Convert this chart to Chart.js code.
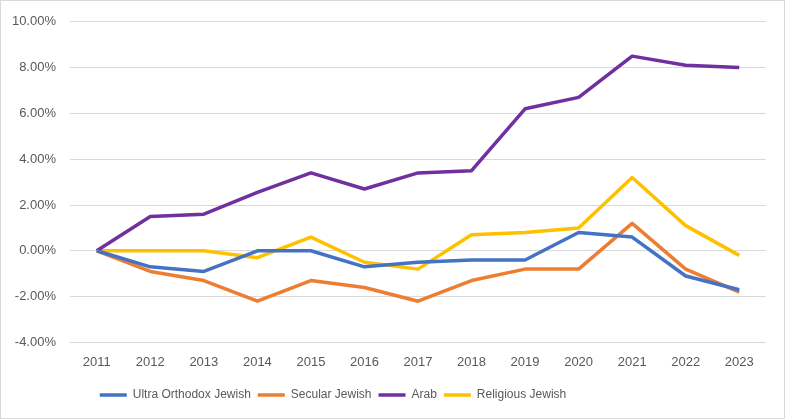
<!DOCTYPE html>
<html>
<head>
<meta charset="utf-8">
<script src="https://cdn.jsdelivr.net/npm/chart.js@4/dist/chart.umd.min.js"></script>
<style>
  html, body { margin: 0; padding: 0; background: #fff; }
  #wrap { width: 785px; height: 419px; }
</style>
</head>
<body>
<div id="wrap"><canvas id="chart" width="785" height="419"></canvas></div>
<script>
// Years on the x axis
const years = ['2011', '2012', '2013', '2014', '2015', '2016', '2017', '2018', '2019', '2020', '2021', '2022', '2023'];

// Change vs 2011, in percent
const ultraOrthodox = [0, -0.7, -0.9, 0, 0, -0.7, -0.5, -0.4, -0.4, 0.8, 0.6, -1.1, -1.7];
const secular = [0, -0.9, -1.3, -2.2, -1.3, -1.6, -2.2, -1.3, -0.8, -0.8, 1.2, -0.8, -1.8];
const arab = [0, 1.5, 1.6, 2.55, 3.4, 2.7, 3.4, 3.5, 6.2, 6.7, 8.5, 8.1, 8.0];
const religious = [0, 0, 0, -0.3, 0.6, -0.5, -0.8, 0.7, 0.8, 1.0, 3.2, 1.1, -0.2];

const yTicks = [-4, -2, 0, 2, 4, 6, 8, 10];

const FONT = "'Liberation Sans', Arial, sans-serif";
Chart.defaults.font.family = FONT;
Chart.defaults.color = '#595959';

function series(label, data, color) {
    return {
        label: label,
        data: data,
        borderColor: color,
        backgroundColor: color,
        borderWidth: 3.5,
        pointRadius: 0,
        pointStyle: 'line',
        tension: 0,
        borderJoinStyle: 'round'
    };
}

// outer light frame like the exported chart
const framePlugin = {
    id: 'frame',
    afterDraw(chart) {
        const ctx = chart.ctx;
        ctx.save();
        ctx.strokeStyle = '#d9d9d9';
        ctx.lineWidth = 1;
        ctx.strokeRect(0.5, 0.5, chart.width - 1, chart.height - 1);
        ctx.restore();
    }
};

// the legend in the original sits a bit left of centre
const legendShift = {
    id: 'legendShift',
    afterLayout(chart) {
        const lg = chart.legend;
        if (!lg) return;
        lg.left -= 50;
        lg.right -= 50;
    }
};

new Chart(document.getElementById('chart'), {
    type: 'line',
    data: {
        labels: years,
        datasets: [
            series('Ultra Orthodox Jewish', ultraOrthodox, '#4472C4'),
            series('Secular Jewish', secular, '#ED7D31'),
            series('Arab', arab, '#7030A0'),
            series('Religious Jewish', religious, '#FFC000')
        ]
    },
    options: {
        responsive: false,
        animation: false,
        layout: { padding: { top: 9, right: 19, bottom: 8, left: 0 } },
        scales: {
            x: {
                offset: true,
                grid: { display: false, drawTicks: false },
                border: { display: false },
                ticks: { padding: 12, font: { size: 13 }, maxRotation: 0 }
            },
            y: {
                min: -4, max: 10,
                afterBuildTicks(axis) { axis.ticks = yTicks.map(v => ({ value: v })); },
                afterFit(axis) { axis.width = 70; },
                grid: { color: '#d9d9d9', lineWidth: 1, drawTicks: false },
                border: { display: false },
                ticks: {
                    padding: 14,
                    font: { size: 13 },
                    callback: v => v.toFixed(2) + '%'
                }
            }
        },
        plugins: {
            legend: {
                position: 'bottom',
                labels: {
                    usePointStyle: true,
                    pointStyleWidth: 27,
                    padding: 7,
                    font: { size: 12 },
                    color: '#595959'
                }
            },
            tooltip: { enabled: false }
        }
    },
    plugins: [framePlugin, legendShift]
});
</script>
</body>
</html>
